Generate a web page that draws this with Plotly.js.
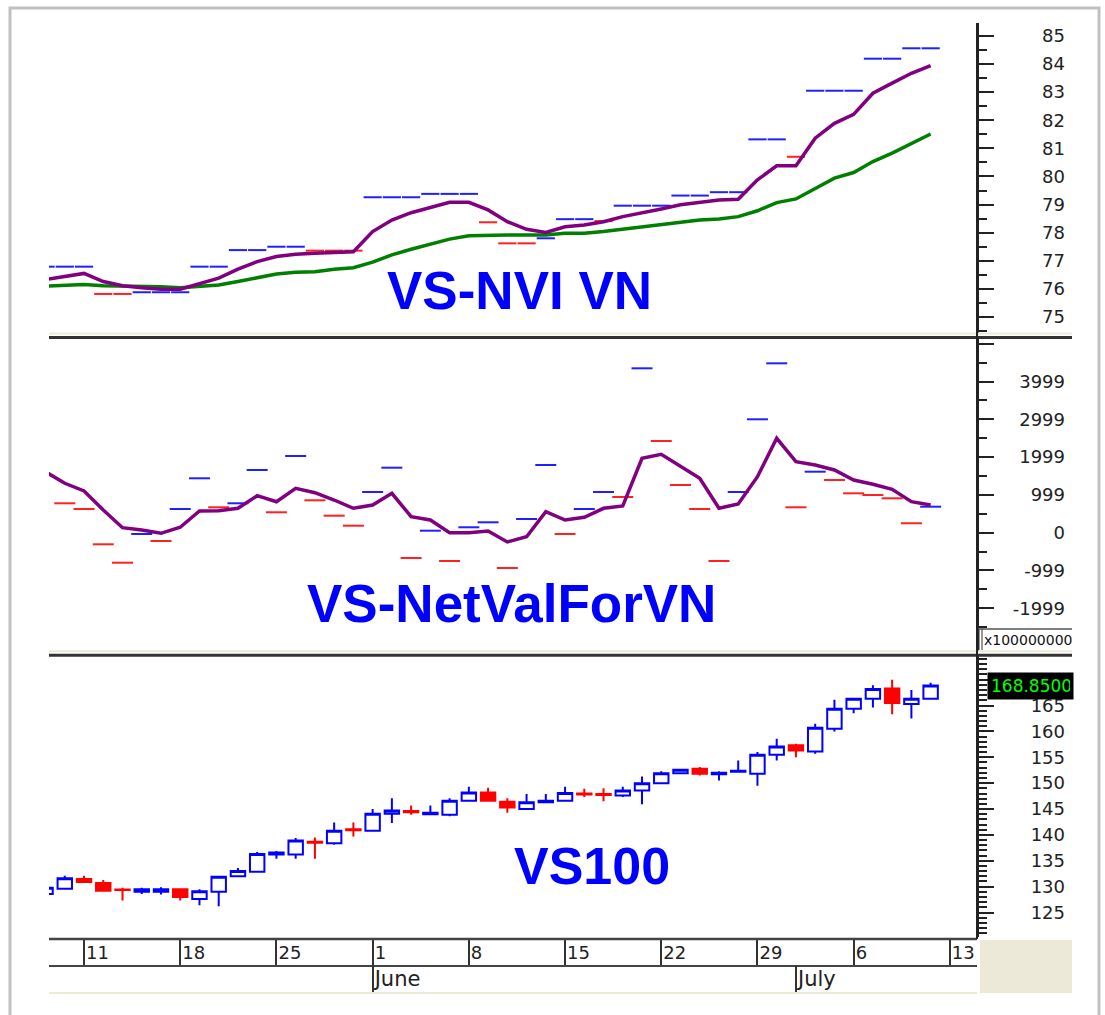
<!DOCTYPE html>
<html><head><meta charset="utf-8">
<script src="https://cdn.plot.ly/plotly-3.0.1.min.js"></script>
<style>html,body{margin:0;padding:0;background:#fff}#chart{width:1105px;height:1015px}</style>
</head><body><div id="chart"></div>
<script>
// ---------- DATA ----------
const tradingDays = ['2009-05-07','2009-05-08','2009-05-11','2009-05-12','2009-05-13','2009-05-14','2009-05-15',
 '2009-05-18','2009-05-19','2009-05-20','2009-05-21','2009-05-22','2009-05-25','2009-05-26','2009-05-27','2009-05-28','2009-05-29',
 '2009-06-01','2009-06-02','2009-06-03','2009-06-04','2009-06-05','2009-06-08','2009-06-09','2009-06-10','2009-06-11','2009-06-12',
 '2009-06-15','2009-06-16','2009-06-17','2009-06-18','2009-06-19','2009-06-22','2009-06-23','2009-06-24','2009-06-25','2009-06-26',
 '2009-06-29','2009-06-30','2009-07-01','2009-07-02','2009-07-03','2009-07-06','2009-07-07','2009-07-08','2009-07-09','2009-07-10'];

// VS-NVI VN panel
const nviPurple = [76.33,76.43,76.55,76.26,76.11,76.04,75.99,75.99,76.20,76.38,76.70,76.97,77.15,77.23,77.27,77.29,77.32,
 78.04,78.45,78.71,78.90,79.08,79.08,78.81,78.39,78.12,78.01,78.21,78.27,78.39,78.57,78.69,78.84,78.99,79.08,79.16,79.19,
 79.88,80.38,80.38,81.36,81.89,82.21,82.96,83.32,83.67,83.94];
const nviGreen = [76.10,76.14,76.16,76.11,76.10,76.10,76.08,76.04,76.08,76.14,76.26,76.40,76.53,76.59,76.61,76.70,76.75,
 76.95,77.21,77.41,77.59,77.77,77.89,77.92,77.92,77.92,77.92,77.98,77.98,78.04,78.12,78.19,78.27,78.36,78.45,78.49,78.57,
 78.78,79.07,79.20,79.58,79.94,80.14,80.53,80.83,81.18,81.51];
const nviDaily = [76.79,76.79,76.79,75.82,75.82,75.88,75.88,75.88,76.79,76.79,77.38,77.38,77.50,77.50,77.36,77.36,77.36,
 79.26,79.26,79.26,79.38,79.38,79.38,78.37,77.62,77.62,77.80,78.48,78.48,78.41,78.96,78.96,78.96,79.32,79.32,79.44,79.44,
 81.32,81.32,80.70,83.05,83.05,83.05,84.19,84.19,84.56,84.56];
const nviDir = ['u','u','u','d','d','u','u','u','u','u','u','u','u','u','d','d','d',
 'u','u','u','u','u','u','d','d','d','u','u','u','d','u','u','u','u','u','u','u',
 'u','u','d','u','u','u','u','u','u','u'];

// VS-NetValForVN panel
const netLine = [1610,1307,1103,601,132,71,-16,143,574,582,645,979,820,1175,1058,865,645,
 733,1042,423,336,0,0,44,-246,-106,556,336,407,645,706,1968,2074,1765,1439,645,759,
 1481,2497,1878,1791,1659,1394,1280,1148,820,733];
const netDaily = [null,778,627,-307,-794,-34,-220,627,1439,672,778,1659,540,2029,857,450,185,
 1077,1720,-669,53,-749,143,275,-934,362,1791,-34,627,1077,944,4349,2426,1262,627,-749,1077,
 3000,4481,672,1614,1394,1042,997,910,249,688];
const netDir = [null,'d','d','d','d','u','d','u','u','d','u','u','d','u','d','d','d',
 'u','u','d','u','d','u','u','d','u','u','d','u','u','d','u','d','d','d','d','u',
 'u','u','d','u','d','d','d','d','d','u'];

// VS100 candles
const vsOpen  = [128.6,129.6,131.5,130.7,129.45,129.0,129.0,129.5,127.6,129.0,132.0,132.9,136.2,136.2,138.7,138.4,141.1,
 140.8,144.1,144.6,144.0,143.9,146.6,148.2,146.4,145.0,146.3,146.6,148.0,147.9,147.6,148.6,150.0,151.9,152.8,151.7,152.2,
 151.8,155.5,157.3,156.1,160.5,164.4,166.3,168.3,165.3,166.3];
const vsHigh  = [130.0,132.1,132.1,131.3,129.8,129.8,129.9,129.7,129.5,132.0,133.6,136.7,136.9,139.4,139.5,142.4,142.4,
 145.0,147.1,145.7,145.7,147.1,149.3,149.1,147.1,147.9,147.9,149.3,148.9,149.0,149.3,151.3,152.3,152.7,153.1,152.3,154.4,
 156.0,158.6,157.6,161.5,166.1,166.4,168.9,170.0,168.0,169.4];
const vsLow   = [128.4,129.5,130.7,129.1,127.3,128.6,128.5,127.3,126.4,126.2,131.9,132.8,135.4,135.4,135.4,138.1,139.7,
 140.7,142.3,143.9,144.0,143.6,146.5,146.5,144.3,144.9,146.3,146.5,147.3,146.5,147.3,145.9,149.9,151.8,151.5,150.5,152.2,
 149.5,154.4,155.0,155.7,160.0,163.5,164.6,163.3,162.5,166.2];
const vsClose = [129.8,131.6,130.9,129.2,129.35,129.5,129.5,128.0,129.1,131.9,133.0,136.3,136.6,138.9,138.5,140.8,140.9,
 144.1,144.7,144.4,144.3,146.6,148.2,146.6,145.3,146.3,146.6,148.1,147.8,147.7,148.6,150.0,151.9,152.6,151.8,152.0,152.4,
 155.5,157.1,156.3,160.7,164.4,166.3,168.2,165.5,166.3,168.85];
const vsLastLabel = '168.8500';

// axis ticks / labels
const weekTickIdx = [2,7,12,17,22,27,32,37,42,47];
const weekTickText = ['11','18','25','1','8','15','22','29','6','13'];
const monthTickIdx = [17,39];
const monthTickText = ['June','July'];
const nviTickVals = [75,76,77,78,79,80,81,82,83,84,85];
const nviTickText = ['75','76','77','78','79','80','81','82','83','84','85'];
const netTickVals = [-2000,-1000,0,1000,2000,3000,4000,5000];
const netTickText = ['-1999','-999','0','999','1999','2999','3999',''];
const netMinorVals = [-2500,-1500,-500,500,1500,2500,3500,4500];
const vsTickVals = [125,130,135,140,145,150,155,160,165,170];
const vsTickText = ['125','130','135','140','145','150','155','160','165',''];
const panelTitles = ['VS-NVI VN','VS-NetValForVN','VS100'];
const scaleNote = 'x100000000';

// ---------- BUILD ----------
const W = 1105, H = 1015;
const px = x => x / W, py = y => 1 - y / H;
const idx = tradingDays.map((d, i) => i);
const BLUE = '#0000ff', RED = '#ff0000';

function pick(vals, dirs, want) { return vals.map((v, i) => dirs[i] === want ? v : null); }

const traces = [
  {type:'scatter', mode:'markers', x: idx, y: pick(nviDaily, nviDir, 'u'), xaxis:'x', yaxis:'y',
   marker:{symbol:'line-ew', size:13, line:{width:2, color:'#2020ff'}}},
  {type:'scatter', mode:'markers', x: idx, y: pick(nviDaily, nviDir, 'd'), xaxis:'x', yaxis:'y',
   marker:{symbol:'line-ew', size:13, line:{width:2, color:'#ff2020'}}},
  {type:'scatter', mode:'lines', x: idx, y: nviGreen, xaxis:'x', yaxis:'y', line:{color:'#008000', width:3.5}},
  {type:'scatter', mode:'lines', x: idx, y: nviPurple, xaxis:'x', yaxis:'y', line:{color:'#800080', width:3.5}},
  {type:'scatter', mode:'markers', x: idx, y: pick(netDaily, netDir, 'u'), xaxis:'x', yaxis:'y2',
   marker:{symbol:'line-ew', size:15, line:{width:2, color:'#2020ff'}}},
  {type:'scatter', mode:'markers', x: idx, y: pick(netDaily, netDir, 'd'), xaxis:'x', yaxis:'y2',
   marker:{symbol:'line-ew', size:15, line:{width:2, color:'#ff2020'}}},
  {type:'scatter', mode:'lines', x: idx, y: netLine, xaxis:'x', yaxis:'y2', line:{color:'#800080', width:3.5}},
  {type:'candlestick', x: idx, open: vsOpen, high: vsHigh, low: vsLow, close: vsClose, xaxis:'x', yaxis:'y3',
   whiskerwidth: 0,
   increasing:{line:{color:BLUE, width:2}, fillcolor:'#ffffff'},
   decreasing:{line:{color:RED, width:2}, fillcolor:RED}},
  // empty carriers so the label axes and the month axis are laid out
  {type:'scatter', mode:'markers', x: [], y: [], xaxis:'x', yaxis:'y4'},
  {type:'scatter', mode:'markers', x: [], y: [], xaxis:'x', yaxis:'y5'},
  {type:'scatter', mode:'markers', x: [], y: [], xaxis:'x', yaxis:'y6'},
  {type:'scatter', mode:'markers', x: [], y: [], xaxis:'x2', yaxis:'y3'}
];

const xRange = [0.18, 48.41];
const nviRange = [74.43, 85.46];
const netRange = [-3130, 5151];
const vsRange = [120.27, 174.57];

const yBase = {side:'right', anchor:'x', ticks:'outside', ticklen:15, tickwidth:2, tickcolor:'#222',
  showline:true, linecolor:'#222', linewidth:2, showgrid:false, zeroline:false, showticklabels:false, fixedrange:true};
const minorBase = {ticks:'outside', ticklen:8, tickwidth:2, tickcolor:'#222'};
const labelFont = {family:'DejaVu Sans', size:18, color:'#222'};
function labelAxis(over, range, vals, text) {
  return {overlaying: over, anchor:'free', position: px(1065), side:'left', range: range,
    tickmode:'array', tickvals: vals, ticktext: text, ticks:'', showline:false, showgrid:false,
    zeroline:false, tickfont: labelFont, fixedrange:true};
}

const rowLine = (y, color, w, x0 = 49, x1 = 977) => ({type:'line', xref:'paper', yref:'paper',
  x0: px(x0), x1: px(x1), y0: py(y), y1: py(y), line:{color: color, width: w}});

const layout = {
  width: W, height: H, margin:{l:0, r:0, t:0, b:0}, paper_bgcolor:'#ffffff', plot_bgcolor:'#ffffff',
  showlegend:false, hovermode:false, boxgap:0.25, boxgroupgap:0,
  xaxis:{domain:[px(49), px(977)], range: xRange, anchor:'free', position: py(966),
    tickmode:'array', tickvals: weekTickIdx, ticktext: weekTickText, ticks:'inside', ticklen:27, tickwidth:2,
    tickcolor:'#333', showline:true, linecolor:'#444', linewidth:2, showgrid:false, zeroline:false,
    ticklabelposition:'inside right', tickfont:{family:'DejaVu Sans', size:18, color:'#222'},
    rangeslider:{visible:false}, fixedrange:true},
  xaxis2:{overlaying:'x', range: xRange, anchor:'free', position: py(993),
    tickmode:'array', tickvals: monthTickIdx, ticktext: monthTickText, ticks:'inside', ticklen:27, tickwidth:2,
    tickcolor:'#333', showline:true, linecolor:'#ece9d8', linewidth:2, showgrid:false, zeroline:false,
    ticklabelposition:'inside right', tickfont:{family:'DejaVu Sans', size:21, color:'#222'}, fixedrange:true},
  yaxis: Object.assign({}, yBase, {domain:[py(333), py(23)], range: nviRange, tickmode:'linear', tick0:75, dtick:1,
    minor: Object.assign({tickmode:'linear', tick0:75, dtick:0.5}, minorBase)}),
  yaxis2: Object.assign({}, yBase, {domain:[py(651), py(338)], range: netRange, tickmode:'array', tickvals: netTickVals,
    minor: Object.assign({tickmode:'array', tickvals: netMinorVals}, minorBase)}),
  yaxis3: Object.assign({}, yBase, {domain:[py(937), py(656)], range: vsRange, tickmode:'linear', tick0:125, dtick:5,
    minor: Object.assign({tickmode:'linear', tick0:125, dtick:1}, minorBase)}),
  yaxis4: labelAxis('y', nviRange, nviTickVals, nviTickText),
  yaxis5: labelAxis('y2', netRange, netTickVals, netTickText),
  yaxis6: labelAxis('y3', vsRange, vsTickVals, vsTickText),
  shapes: [
    {type:'rect', xref:'paper', yref:'paper', x0: px(10), x1: px(1099), y0: py(1030), y1: py(8),
     line:{color:'#c0c0c0', width:3}, fillcolor:'rgba(0,0,0,0)'},
    rowLine(333.5, '#ece9d8', 2, 49, 1072), rowLine(337.5, '#333333', 3, 49, 1072),
    rowLine(651.3, '#ece9d8', 2, 49, 1072), rowLine(655.3, '#333333', 3, 49, 1072),
    rowLine(939, '#444444', 2.5),
    {type:'line', xref:'paper', yref:'paper', x0: px(977), x1: px(977), y0: py(23), y1: py(939), line:{color:'#222', width:2}},
    {type:'rect', xref:'paper', yref:'paper', x0: px(980), x1: px(1072), y0: py(993), y1: py(940), line:{width:0}, fillcolor:'#ece9d8'},
    rowLine(629, '#555555', 1.5, 978, 1072),
    {type:'line', xref:'paper', yref:'paper', x0: px(979), x1: px(979), y0: py(629), y1: py(650), line:{color:'#333', width:1}},
    {type:'line', xref:'paper', yref:'paper', x0: px(982), x1: px(982), y0: py(629), y1: py(650), line:{color:'#333', width:1}}
  ],
  annotations: [
    {xref:'paper', yref:'paper', x: px(385), y: py(290), xanchor:'left', yanchor:'middle', showarrow:false,
     text: panelTitles[0], font:{family:'Liberation Sans', size:53, color:BLUE, weight:700}},
    {xref:'paper', yref:'paper', x: px(305), y: py(603), xanchor:'left', yanchor:'middle', showarrow:false,
     text: panelTitles[1], font:{family:'Liberation Sans', size:53, color:BLUE, weight:700}},
    {xref:'paper', yref:'paper', x: px(512), y: py(866), xanchor:'left', yanchor:'middle', showarrow:false,
     text: panelTitles[2], font:{family:'Liberation Sans', size:52, color:BLUE, weight:700}},
    {xref:'paper', yref:'y3', x: px(987), y: vsClose[vsClose.length - 1], xanchor:'left', yanchor:'middle', showarrow:false,
     text: vsLastLabel, bgcolor:'#000000', borderpad:3, width:79, align:'left',
     font:{family:'DejaVu Sans', size:17, color:'#00ff00'}},
    {xref:'paper', yref:'paper', x: px(982), y: py(640), xanchor:'left', yanchor:'middle', showarrow:false,
     text: scaleNote, font:{family:'DejaVu Sans', size:14, color:'#111'}}
  ]
};

Plotly.newPlot('chart', traces, layout, {displayModeBar:false, staticPlot:true});
</script>
</body></html>
